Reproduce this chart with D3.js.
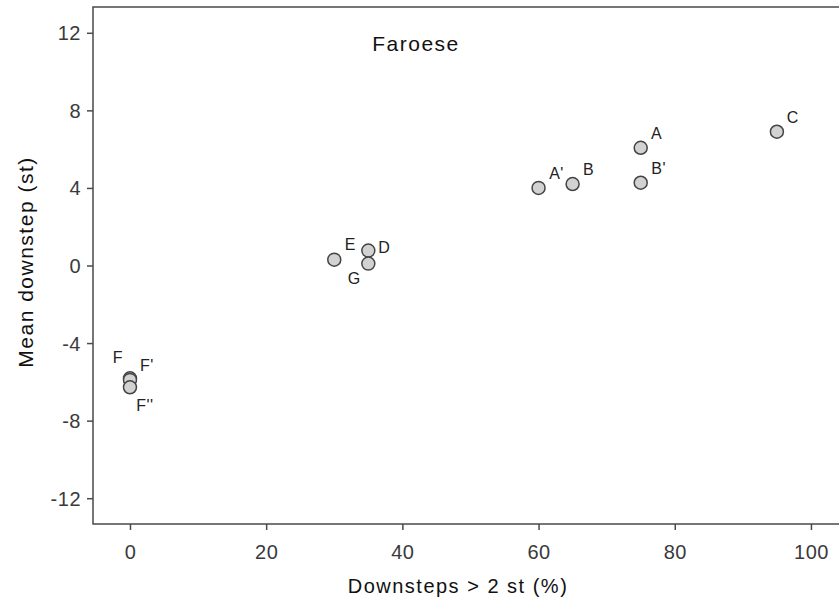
<!DOCTYPE html>
<html><head><meta charset="utf-8">
<script src="https://cdn.jsdelivr.net/npm/d3@7"></script>
<style>body{margin:0;background:#fff}svg{display:block}text{font-family:"Liberation Sans",Arial,sans-serif}</style>
</head><body><svg id="c" width="839" height="605"></svg>
<script>
const labels = ["A","A'","B","B'","C","D","E","F","F'","F''","G"];
const xVals = [75,60,65,75,95,35,30,0,0,0,35];
const yVals = [6.07,4.0,4.2,4.27,6.9,0.77,0.3,-5.82,-5.9,-6.28,0.1];
const labelDx = [16,18,16,18,16,16,16,-12,17,15,-14];
const labelDy = [-15,-15,-15,-15,-15,-4,-16,-21,-15,18,14];
const xTicks = [0,20,40,60,80,100];
const yTicks = [12,8,4,0,-4,-8,-12];

const svg = d3.select("#c");
const L=93, T=7, R=845, B=524;
const x = d3.scaleLinear().domain([-5.43,105]).range([L,R]);
const y = d3.scaleLinear().domain([-13.33,13.33]).range([B,T]);

const frame = "#4a4a4a";
svg.append("path").attr("d",`M${R},${T}H${L}V${B}H${R}`).attr("fill","none").attr("stroke",frame).attr("stroke-width",1.5);

const fmt = d => String(d);
const xa = svg.append("g").attr("transform",`translate(0,${B})`).call(d3.axisBottom(x).tickValues(xTicks).tickSize(6).tickFormat(fmt));
const ya = svg.append("g").attr("transform",`translate(${L},0)`).call(d3.axisLeft(y).tickValues(yTicks).tickSize(6).tickFormat(fmt));
[xa,ya].forEach(a=>{a.select(".domain").remove();a.selectAll("line").attr("stroke",frame).attr("stroke-width",1.5);
 a.selectAll("text").attr("fill","#3a3a3a").style("font-size","20px").style("letter-spacing","0.5px").style("font-family","'Liberation Sans',Arial,sans-serif");});
xa.selectAll("text").attr("dy",null).attr("y",35);
ya.selectAll("text").attr("x",-12).attr("dy","0.35em");

svg.append("text").attr("x",458).attr("y",593).attr("text-anchor","middle").style("font-size","20px").style("letter-spacing","1.5px").attr("fill","#111").text("Downsteps > 2 st (%)");
svg.append("text").attr("transform","translate(33,262) rotate(-90)").attr("text-anchor","middle").style("font-size","21px").style("letter-spacing","1.5px").attr("fill","#111").text("Mean downstep (st)");
svg.append("text").attr("x",416).attr("y",51).attr("text-anchor","middle").style("font-size","21px").style("letter-spacing","1.5px").attr("fill","#111").text("Faroese");

const idx = d3.range(labels.length);
svg.append("g").selectAll("circle").data(idx).join("circle")
 .attr("cx",i=>x(xVals[i])).attr("cy",i=>y(yVals[i])).attr("r",6.5)
 .attr("fill","#d2d2d2").attr("stroke","#444").attr("stroke-width",1.5);
svg.append("g").selectAll("text").data(idx).join("text")
 .attr("x",i=>x(xVals[i])+labelDx[i]).attr("y",i=>y(yVals[i])+labelDy[i]+6)
 .attr("text-anchor","middle").style("font-size","16px").style("letter-spacing","0.5px").attr("fill","#222").text(i=>labels[i]);
</script></body></html>
